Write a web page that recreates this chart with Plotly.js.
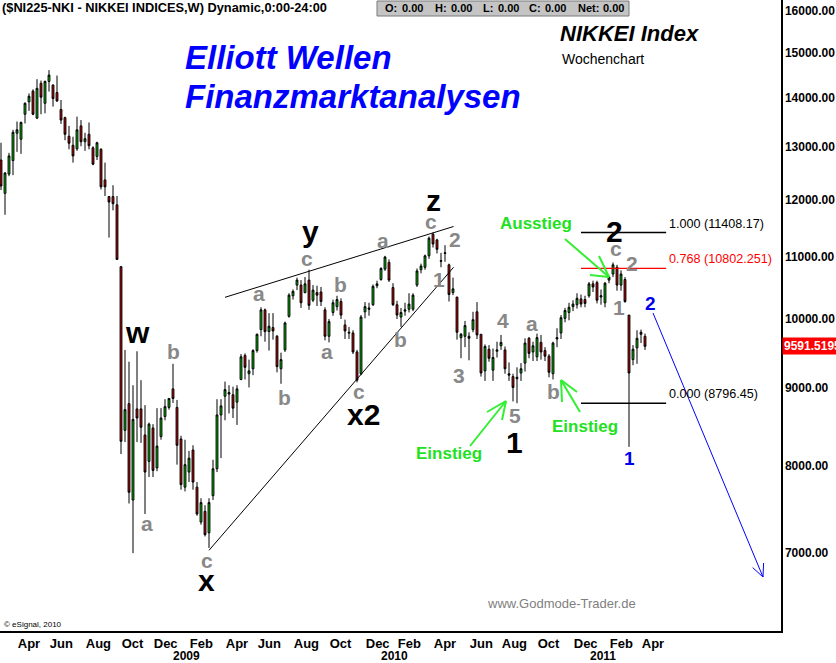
<!DOCTYPE html>
<html><head><meta charset="utf-8">
<script src="https://cdn.plot.ly/plotly-3.0.1.min.js"></script>
<style>html,body{margin:0;padding:0;background:#fff;overflow:hidden}</style>
</head><body><div id="chart" style="width:836px;height:663px"></div>
<script>
// ---------- DATA (weekly Nikkei 225, first week 2008-03-10) ----------
const firstWeek = '2008-03-10';
const opens = [12740,12110,12470,12730,13270,13150,13660,13920,14150,13580,14320,13890,14360,14280,14120,13760,13590,13210,13030,12960,13420,13100,13250,12980,12810,12950,12360,12050,12050,11900,
10830,8440,8790,7590,8720,8720,8380,8050,8470,7970,8360,8620,8740,8990,8740,8330,7740,7920,8190,7740,7340,7460,7220,7640,7960,8640,8890,8940,8910,8810,
9120,9460,9200,9270,9530,9840,10140,9810,9870,9740,9270,9540,10040,10360,10530,10530,10410,10610,10290,10410,10420,10140,9740,10100,10190,10270,9910,9800,9790,9510,
9200,10110,10170,10220,10520,10620,10790,10900,10490,10220,10030,10120,10150,10150,10530,10780,10820,11010,11380,11280,10930,11050,10860,10410,10340,9720,9740,9740,9840,10110,
9770,9240,9550,9250,9520,9600,9540,9200,9160,9130,9210,9350,9710,9510,9440,9650,9530,9450,9200,9700,9790,10010,10100,10190,10220,10310,10300,10360,10550,10570,
10340,10250,10610,10710,10820,10530,10620,10060,9400,9570,9800,9740];
const highs = [13080,12510,12880,13340,13510,13510,13910,14100,14190,14410,14380,14380,14610,14300,14490,13960,13610,13420,13200,13610,13540,13280,13490,13010,13100,12970,12690,12060,12260,12060,
10840,9540,9370,9040,9520,9110,8770,8540,8520,8730,8730,8850,8860,9340,8840,8370,8320,8180,8250,7800,7610,7530,7610,8070,8850,8850,9090,9040,9020,9040,
9480,9490,9400,9550,9780,10180,10160,10090,10090,9760,9500,9960,10400,10460,10650,10610,10660,10780,10530,10520,10500,10180,10000,10300,10360,10320,9990,9880,9830,9540,
10060,10260,10250,10540,10600,10820,11010,10950,10560,10280,10170,10250,10400,10400,10800,10880,11030,11340,11408,11300,11060,11190,10880,10650,10340,9790,9970,9800,10110,10260,
9770,9620,9610,9560,9660,9760,9590,9360,9200,9290,9350,9710,9730,9660,9780,9760,9580,9480,9660,9860,10060,10170,10250,10290,10400,10380,10360,10580,10600,10600,
10460,10580,10680,10900,10860,10770,10660,10060,9610,9830,9840,9780];
const lows = [12170,11720,12430,12450,12900,12860,13470,13730,13640,13560,13660,13680,14140,13820,13920,13460,13130,12950,12690,12920,13010,12920,12950,12640,12740,12180,12060,11320,11800,10940,
8140,8290,7550,7000,8290,8280,7430,7860,7860,7930,8320,8570,8710,8800,8010,7710,7690,7800,7710,7410,7310,7180,7055,7590,7920,8090,8570,8660,8600,8510,
9110,9120,9010,9180,9500,9740,9660,9530,9690,9220,9060,9510,10020,10300,10450,10170,10400,10140,10260,10200,10200,9680,9650,10050,10130,10000,9700,9700,9480,9080,
9180,10010,10050,10200,10480,10600,10760,10580,10200,10000,9880,10050,10100,10120,10500,10720,10780,10960,11150,11050,10820,10910,10270,10370,9690,9420,9580,9390,9800,9700,
9160,9100,9370,9100,9430,9540,9200,9100,8820,8796,9100,9230,9420,9380,9380,9400,9380,9150,9120,9580,9700,9950,9980,10120,10160,10180,10180,10330,10420,10240,
10220,10180,10560,10660,10440,10440,10250,8230,9320,9340,9640,9540];
const closes = [12245,12490,12820,13290,13340,13490,13890,14040,13660,14210,14020,14360,14500,13990,13940,13540,13250,13070,12820,13340,13100,13160,13020,12660,13080,12230,12230,11950,11920,10950,
8300,8710,7680,8580,8600,8480,7920,8520,7940,8240,8600,8750,8860,8860,8250,7770,8010,8090,7800,7430,7560,7200,7560,7960,8640,8760,8980,8920,8730,8990,
9440,9290,9240,9530,9770,10140,9810,9890,9820,9300,9400,9940,10370,10430,10610,10250,10550,10210,10450,10370,10270,9740,9960,10250,10300,10060,9820,9790,9510,9110,
10030,10190,10150,10510,10550,10800,10990,10610,10220,10060,10100,10140,10230,10370,10760,10840,11010,11310,11210,11120,10920,11060,10380,10470,9800,9770,9900,9710,9990,9760,
9210,9590,9420,9430,9540,9650,9270,9180,9010,9150,9270,9640,9490,9600,9720,9510,9450,9220,9640,9720,10020,10130,10180,10230,10320,10230,10240,10550,10500,10290,
10360,10560,10660,10860,10530,10710,10270,9210,9550,9710,9770,9591.52];
const lastPrice = 9591.5195;

// Fibonacci retracement levels
const fibRatios = ['1.000', '0.768', '0.000'];
const fibLevels = [11408.17, 10802.251, 8796.45];
const fibDates = ['2010-12-20', '2011-05-18'];

// trend lines (date, value)
const upperTrendDates = ['2009-04-06', '2010-05-11'];
const upperTrendValues = [10336, 11513];
const lowerTrendDates = ['2009-03-09', '2010-05-11'];
const lowerTrendValues = [7030, 10819];

// axis labels
const monthTicks = ['2008-04-07','2008-06-02','2008-08-04','2008-10-06','2008-12-01','2009-02-02','2009-04-06','2009-06-01','2009-08-03','2009-10-05','2009-12-07','2010-02-01','2010-04-05','2010-06-07','2010-08-02','2010-10-04','2010-12-06','2011-02-07','2011-04-04'];
const monthLabels = ['Apr','Jun','Aug','Oct','Dec','Feb','Apr','Jun','Aug','Oct','Dec','Feb','Apr','Jun','Aug','Oct','Dec','Feb','Apr'];
const yearLabels = ['2009','2010','2011'];
const yearDates = ['2009-01-29','2010-01-28','2011-01-27'];
const priceTicks = [7000,8000,9000,10000,11000,12000,13000,14000,15000,16000];

// ---------- BUILD ----------
const dates = closes.map((_, i) => {
  const d = new Date(firstWeek + 'T00:00:00Z');
  d.setUTCDate(d.getUTCDate() + 7 * i);
  return d.toISOString().slice(0, 10);
});

const W = 836, H = 663, PW = 781, PH = 631;
const px = x => x / PW, py = y => 1 - y / PH;
const AR = 'Liberation Sans, Arial, sans-serif';
const NARROW = 'Liberation Sans Narrow, Arial Narrow, Liberation Sans, sans-serif';

function vcOffset(t, size) {
  let vc = 0.358;
  if (/^[acemnorsuvwxz]+$/.test(t)) vc = 0.26;
  if (t === 'y') vc = 0.155;
  return (0.3465 - vc) * size;
}
function label(t, x, y, size, color, opts) {
  return Object.assign({
    text: t, xref: 'paper', yref: 'paper', x: px(x), y: py(y - vcOffset(t, size)),
    showarrow: false, xanchor: 'center', yanchor: 'middle',
    font: {family: AR, size: size, color: color, weight: 'bold'}
  }, opts || {});
}

const annotations = [];
// header
annotations.push({text: '($NI225-NKI - NIKKEI INDICES,W) Dynamic,0:00-24:00', xref:'paper', yref:'paper',
  x: px(0), y: py(7), xanchor:'left', yanchor:'middle', showarrow:false,
  font:{family: AR, size: 12.8, color:'#000', weight:'bold'}});
[['O:',383,'0.00',400],['H:',433,'0.00',449],['L:',481,'0.00',496],['C:',527,'0.00',543],['Net:',576,'0.00',601]].forEach(a => {
  annotations.push({text:a[0], xref:'paper', yref:'paper', x:px(a[1]), y:py(8.5), xanchor:'left', yanchor:'middle', showarrow:false, font:{family:AR,size:11,color:'#000',weight:'bold'}});
  annotations.push({text:a[2], xref:'paper', yref:'paper', x:px(a[3]), y:py(8.5), xanchor:'left', yanchor:'middle', showarrow:false, font:{family:AR,size:11,color:'#000',weight:'bold'}});
});
annotations.push({text:'Elliott Wellen', xref:'paper', yref:'paper', x:px(183), y:py(57.5), xanchor:'left', yanchor:'middle', showarrow:false,
  font:{family:AR, size:33, color:'#0000ff', weight:'bold', style:'italic'}});
annotations.push({text:'Finanzmarktanalysen', xref:'paper', yref:'paper', x:px(183), y:py(97), xanchor:'left', yanchor:'middle', showarrow:false,
  font:{family:AR, size:33, color:'#0000ff', weight:'bold', style:'italic'}});
annotations.push({text:'NIKKEI Index', xref:'paper', yref:'paper', x:px(629), y:py(33.5), xanchor:'center', yanchor:'middle', showarrow:false,
  font:{family:AR, size:22, color:'#000', weight:'bold', style:'italic'}});
annotations.push({text:'Wochenchart', xref:'paper', yref:'paper', x:px(603), y:py(59.5), xanchor:'center', yanchor:'middle', showarrow:false,
  font:{family:AR, size:14, color:'#000'}});
annotations.push({text:'www.Godmode-Trader.de', xref:'paper', yref:'paper', x:px(561), y:py(603), xanchor:'center', yanchor:'middle', showarrow:false,
  font:{family:AR, size:13, color:'#808080'}});
annotations.push({text:'\u00a9 eSignal, 2010', xref:'paper', yref:'paper', x:px(2), y:py(624), xanchor:'left', yanchor:'middle', showarrow:false,
  font:{family:AR, size:8, color:'#000'}});

// wave labels
[['w',137,335],['x',206,583],['y',310,237],['x2',363,414],['z',433,203],['2',614,231],['1',514,442]]
  .forEach(l => annotations.push(label(l[0], l[1], l[2], 30, '#000')));
[['a',147,525],['b',173,351],['c',207,562],['a',259,295],['b',284,397],['c',307,260],['a',327,353],['b',340,284],['c',359,393],
 ['a',383,242],['b',400,339],['c',431,223],['2',455,239],['1',439,279],['3',459,375],['4',503,320],['a',532,325],['5',515,415],
 ['b',553,391],['c',616,250],['2',632,263],['1',619,307]]
  .forEach(l => annotations.push(label(l[0], l[1], l[2], 21, '#888888')));
[['2',650,303],['1',629,458]].forEach(l => annotations.push(label(l[0], l[1], l[2], 19, '#0000ee')));
[['Ausstieg',536,223],['Einstieg',449,453],['Einstieg',585,426]]
  .forEach(l => annotations.push(label(l[0], l[1], l[2], 17, '#22e022')));

// fib labels
fibLevels.forEach((lv, k) => {
  annotations.push({text: fibRatios[k] + ' (' + lv + ')', xref:'paper', yref:'y', x: px(667), y: Math.log10(lv),
    xanchor:'left', yanchor:'bottom', showarrow:false,
    font:{family:AR, size:12.6, color: k === 1 ? '#ff0000' : '#000'}});
});
// last price box
annotations.push({text: String(lastPrice), xref:'paper', yref:'y', x: 1, y: Math.log10(lastPrice), xanchor:'left', yanchor:'middle',
  showarrow:false, bgcolor:'#ff0000', borderpad:1, xshift:1, font:{family:AR, size:12, color:'#fff', weight:'bold'}});
// years
yearLabels.forEach((yl, k) => annotations.push({text: yl, xref:'x', yref:'paper', x: yearDates[k], y: py(656),
  xanchor:'center', yanchor:'middle', showarrow:false, font:{family:NARROW, size:12, color:'#000', weight:'bold'}}));

// shapes: OHLC box, arrows
const shapes = [];
shapes.push({type:'rect', xref:'paper', yref:'paper', x0:px(377), x1:px(629), y0:py(1), y1:py(16), fillcolor:'#c4c4c4', line:{color:'#7a7a7a', width:1}, layer:'above'});
function seg(a, b, color, width) {
  shapes.push({type:'line', xref:'paper', yref:'paper', x0:px(a[0]), y0:py(a[1]), x1:px(b[0]), y1:py(b[1]), line:{color, width}});
}
const green = '#33ee33';
// Ausstieg arrow
seg([565,239],[609,277],green,2); seg([599,256],[609,277],green,2); seg([590,275],[609,277],green,2);
// right Einstieg arrow
seg([580,412],[561,380],green,2); seg([562,402],[561,380],green,2); seg([577,392],[561,380],green,2);
// left Einstieg arrow
seg([470,446],[506,401],green,2); seg([487,412],[506,401],green,2); seg([502,420],[506,401],green,2);
// blue projection arrow
(function(){
  const t0 = [653,313], t1 = [763,577];
  seg(t0, t1, '#0000ff', 1);
  const dx = t0[0]-t1[0], dy = t0[1]-t1[1], L = Math.hypot(dx, dy);
  const ux = dx/L, uy = dy/L, a = 25*Math.PI/180, len = 14;
  [a, -a].forEach(ang => {
    const rx = ux*Math.cos(ang) - uy*Math.sin(ang), ry = ux*Math.sin(ang) + uy*Math.cos(ang);
    seg(t1, [t1[0]+rx*len, t1[1]+ry*len], '#0000ff', 1);
  });
})();

const traces = [];
traces.push({type:'scatter', mode:'lines', x: upperTrendDates, y: upperTrendValues, line:{color:'#000', width:1}, hoverinfo:'skip'});
traces.push({type:'scatter', mode:'lines', x: lowerTrendDates, y: lowerTrendValues, line:{color:'#000', width:1}, hoverinfo:'skip'});
fibLevels.forEach((lv, k) => traces.push({type:'scatter', mode:'lines', x: fibDates, y: [lv, lv],
  line:{color: k === 1 ? '#ff0000' : '#000', width: k === 1 ? 1.2 : 1.5}, hoverinfo:'skip'}));
traces.push({type:'candlestick', x: dates, open: opens, high: highs, low: lows, close: closes,
  increasing:{line:{color:'#000', width:1}, fillcolor:'#00cc00'},
  decreasing:{line:{color:'#000', width:1}, fillcolor:'#d00000'},
  whiskerwidth:0, hoverinfo:'skip'});

const layout = {
  width: W, height: H, showlegend: false,
  margin: {l:0, r: W-PW, t:0, b: H-PH, pad:0},
  paper_bgcolor:'#fff', plot_bgcolor:'#fff',
  boxgap: 0.35,
  hovermode: false,
  xaxis: {type:'date', range:['2008-03-08 06:00','2011-12-05'], rangeslider:{visible:false},
    tickvals: monthTicks, ticktext: monthLabels, ticks:'', ticklabelposition:'outside right', tickangle:0,
    showgrid:false, zeroline:false, showline:true, linecolor:'#000', linewidth:1.5,
    tickfont:{family:NARROW, size:13, color:'#000', weight:'bold'}, fixedrange:true},
  yaxis: {type:'log', side:'right', range:[Math.log10(6217), Math.log10(16257)],
    tickvals: priceTicks, ticktext: priceTicks.map(v => v.toFixed(2)), ticks:'',
    showgrid:false, zeroline:false, showline:true, linecolor:'#000', linewidth:1.5,
    tickfont:{family:AR, size:12, color:'#000', weight:'bold'}, fixedrange:true},
  annotations, shapes
};
Plotly.newPlot('chart', traces, layout, {staticPlot:true, displayModeBar:false});
</script>
</body></html>
